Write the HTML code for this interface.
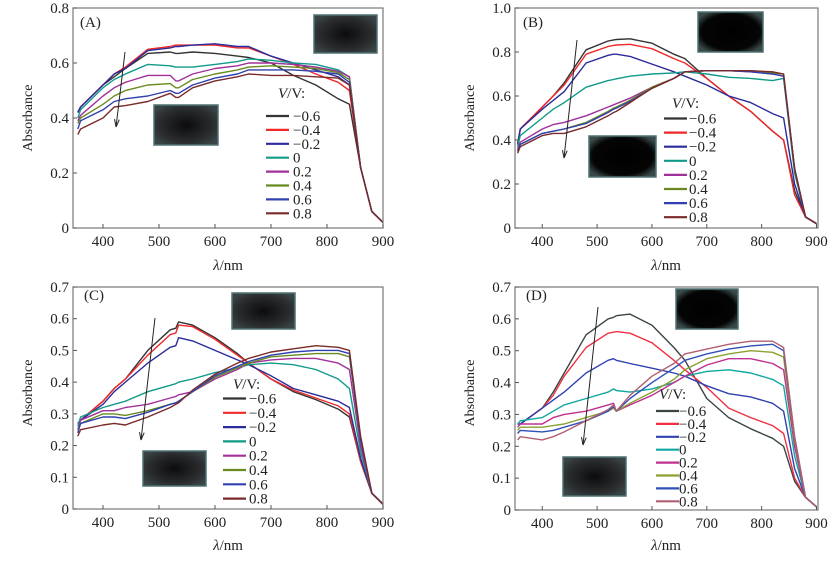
<!DOCTYPE html>
<html><head><meta charset="utf-8"><style>
body{margin:0;background:#fff;}
svg{display:block;font-family:"Liberation Serif",serif;}
</style></head><body>
<svg id="fig" width="838" height="561" viewBox="0 0 838 561">
<defs>
<radialGradient id="ins" cx="50%" cy="50%" r="60%"><stop offset="0" stop-color="#0c0c0e"/><stop offset="0.7" stop-color="#2a2c2e"/><stop offset="1" stop-color="#3a4446"/></radialGradient>
<radialGradient id="insB" cx="50%" cy="50%" r="60%"><stop offset="0" stop-color="#000"/><stop offset="0.75" stop-color="#050505"/><stop offset="1" stop-color="#3a4a4a"/></radialGradient>
</defs>
</svg>
<script>
const W=[355,360,400,420,440,480,520,530,535,560,600,640,660,700,740,780,820,840,860,880,900];
const seriesLabels=["\u22120.6","\u22120.4","\u22120.2","0","0.2","0.4","0.6","0.8"];
const A_m06=[.42,.44,.52,.55,.58,.635,.64,.635,.635,.64,.635,.625,.62,.60,.555,.52,.47,.45,.22,.06,.02];
const A_m04=[.42,.44,.52,.56,.585,.65,.66,.665,.665,.665,.665,.655,.655,.625,.595,.56,.53,.50,.22,.06,.02];
const A_m02=[.42,.44,.52,.56,.58,.645,.655,.66,.66,.665,.67,.66,.66,.625,.60,.575,.55,.52,.22,.06,.02];
const A_0=[.40,.43,.51,.54,.56,.595,.59,.585,.585,.585,.595,.605,.615,.61,.60,.595,.575,.55,.22,.06,.02];
const A_02=[.39,.41,.48,.51,.53,.555,.555,.535,.535,.56,.58,.59,.60,.60,.595,.585,.57,.55,.22,.06,.02];
const A_04=[.38,.40,.45,.48,.50,.52,.525,.51,.51,.54,.56,.575,.585,.59,.585,.58,.565,.54,.22,.06,.02];
const A_06=[.36,.39,.43,.46,.47,.48,.50,.49,.49,.52,.545,.56,.575,.575,.575,.57,.56,.53,.22,.06,.02];
const A_08=[.34,.36,.40,.44,.445,.46,.49,.475,.475,.51,.535,.55,.56,.555,.555,.55,.545,.52,.22,.06,.02];
const B_m06=[.38,.45,.55,.60,.66,.81,.85,.855,.857,.86,.84,.79,.77,.68,.60,.53,.44,.40,.17,.05,.02];
const B_m04=[.38,.45,.55,.60,.65,.79,.825,.83,.832,.835,.815,.77,.75,.68,.60,.53,.44,.40,.15,.05,.02];
const B_m02=[.38,.45,.54,.58,.62,.75,.785,.79,.79,.78,.745,.71,.69,.65,.60,.57,.52,.50,.20,.05,.02];
const B_0=[.37,.42,.50,.54,.57,.64,.67,.675,.678,.69,.70,.705,.71,.70,.685,.68,.67,.68,.25,.05,.02];
const B_02=[.36,.39,.45,.47,.48,.51,.55,.56,.565,.59,.64,.68,.71,.715,.715,.71,.70,.69,.27,.05,.02];
const B_04=[.35,.38,.43,.44,.45,.48,.53,.545,.55,.58,.64,.68,.71,.715,.715,.715,.705,.70,.27,.05,.02];
const B_06=[.35,.38,.43,.44,.45,.475,.525,.54,.545,.575,.635,.68,.71,.715,.715,.71,.70,.69,.27,.05,.02];
const B_08=[.34,.37,.42,.43,.43,.46,.51,.525,.53,.57,.635,.68,.71,.715,.715,.715,.71,.70,.27,.05,.02];
const C_m06=[.27,.28,.34,.38,.41,.50,.565,.57,.59,.58,.54,.49,.46,.41,.37,.345,.315,.29,.15,.05,.015];
const C_m04=[.27,.28,.34,.38,.41,.485,.55,.555,.58,.575,.535,.485,.46,.41,.375,.35,.325,.30,.15,.05,.015];
const C_m02=[.27,.28,.33,.37,.40,.46,.51,.515,.54,.53,.50,.47,.455,.42,.38,.36,.34,.32,.16,.05,.015];
const C_0=[.26,.29,.32,.33,.34,.37,.39,.395,.40,.41,.43,.445,.455,.46,.455,.44,.41,.38,.18,.05,.015];
const C_02=[.25,.28,.31,.31,.32,.33,.35,.355,.36,.37,.41,.44,.46,.47,.475,.475,.46,.44,.20,.05,.015];
const C_04=[.25,.27,.30,.30,.295,.31,.33,.335,.34,.37,.415,.445,.46,.48,.485,.49,.49,.48,.22,.05,.015];
const C_06=[.24,.27,.29,.29,.285,.305,.33,.335,.34,.37,.42,.45,.465,.485,.495,.50,.50,.49,.22,.05,.015];
const C_08=[.23,.25,.265,.27,.265,.29,.32,.33,.335,.375,.425,.46,.475,.495,.505,.515,.51,.50,.23,.05,.015];
const D_m06=[.27,.27,.32,.37,.43,.55,.60,.605,.61,.615,.58,.51,.47,.35,.29,.255,.225,.20,.09,.04,.01];
const D_m04=[.27,.27,.32,.36,.42,.51,.555,.558,.56,.555,.525,.47,.44,.385,.32,.29,.265,.24,.10,.04,.01];
const D_m02=[.27,.27,.32,.345,.37,.43,.47,.475,.47,.46,.445,.43,.42,.39,.365,.355,.335,.31,.13,.04,.01];
const D_0=[.27,.28,.29,.31,.33,.35,.37,.38,.375,.37,.38,.40,.42,.435,.44,.43,.41,.39,.17,.04,.01];
const D_02=[.26,.27,.27,.29,.30,.31,.33,.335,.31,.33,.36,.40,.42,.455,.475,.475,.46,.44,.20,.04,.01];
const D_04=[.25,.26,.26,.265,.27,.29,.31,.32,.31,.335,.37,.41,.44,.475,.49,.50,.495,.48,.22,.04,.01];
const D_06=[.24,.25,.245,.25,.26,.28,.31,.325,.31,.35,.40,.445,.47,.49,.505,.515,.52,.50,.23,.04,.01];
const D_08=[.22,.23,.22,.23,.245,.28,.315,.33,.31,.36,.42,.46,.49,.505,.52,.53,.53,.51,.23,.04,.01];
const xTicks=[400,500,600,700,800,900];
const yTicksA=[0,0.2,0.4,0.6,0.8];
const yTicksB=[0,0.2,0.4,0.6,0.8,1.0];
const yTicksCD=[0,0.1,0.2,0.3,0.4,0.5,0.6,0.7];

const colorsN=["#333","#f02828","#2a2a9a","#109a8a","#a0309a","#6a8a20","#3040b0","#7a2a2a"];
const colorsD=["#3a4444","#f03040","#3040b0","#10a8a0","#c03090","#8aa030","#3050b8","#b06070"];

const svg=document.getElementById('fig');
const NS="http://www.w3.org/2000/svg";
function mk(tag,attrs,parent,text){const e=document.createElementNS(NS,tag);for(const k in attrs)e.setAttribute(k,attrs[k]);if(text!==undefined)e.textContent=text;(parent||svg).appendChild(e);return e;}

const panels=[
 {id:'a',lab:'(A)',L:73,R:383,x900:383,k:0.56,y0:228,yT:8,ymax:0.8,ticks:yTicksA,series:[A_m06,A_m04,A_m02,A_0,A_02,A_04,A_06,A_08],cols:colorsN,
  leg:{vx:278,vy:98,y:116,dy:13.9,lx:266,tx:293},ins:[[314,15,63,38,'ins'],[154,105,64,40,'ins']],arrow:[125,52,116,127],ytx:32,yty:118,xtx:228,xty:270,labx:80,laby:27},
 {id:'b',lab:'(B)',L:515,R:818,x900:816.5,k:0.5485,y0:228,yT:8,ymax:1.0,ticks:yTicksB,series:[B_m06,B_m04,B_m02,B_0,B_02,B_04,B_06,B_08],cols:colorsN,
  leg:{vx:672,vy:108,y:118.5,dy:14.1,lx:664,tx:689},ins:[[698,12,65,40,'insB'],[589,136,67,41,'insB']],arrow:[577,40,564,158],ytx:474,yty:118,xtx:666,xty:270,labx:523,laby:27},
 {id:'c',lab:'(C)',L:73,R:383,x900:383,k:0.56,y0:509,yT:287,ymax:0.7,ticks:yTicksCD,series:[C_m06,C_m04,C_m02,C_0,C_02,C_04,C_06,C_08],cols:colorsN,
  leg:{vx:233,vy:389,y:398.5,dy:14.3,lx:223,tx:249},ins:[[232,293,63,36,'ins'],[143,451,63,35,'ins']],arrow:[155,318,141,440],ytx:32,yty:393,xtx:228,xty:550,labx:84,laby:300},
 {id:'d',lab:'(D)',L:515,R:818,x900:816.5,k:0.5485,y0:510,yT:287,ymax:0.7,ticks:yTicksCD,series:[D_m06,D_m04,D_m02,D_0,D_02,D_04,D_06,D_08],cols:colorsD,
  leg:{vx:659,vy:399,y:411,dy:12.9,lx:656,tx:679},ins:[[676,289,62,40,'insB'],[563,457,63,39,'ins']],arrow:[598,307,583,445],ytx:474,yty:393,xtx:666,xty:550,labx:526,laby:300}
];

panels.forEach(p=>{
 const g=mk('g',{});
 
 
 const xs=w=>p.x900-(900-w)*p.k;
 const ys=v=>p.y0-(v/p.ymax)*(p.y0-p.yT);
 p.ins.forEach((r,i)=>{
  const e=mk('rect',{x:r[0],y:r[1],width:r[2],height:r[3],fill:'url(#'+r[4]+')',stroke:'#4f7272','stroke-width':1.5},g);
  
  
 });
 p.series.forEach((s,i)=>{
  const d=W.map((w,j)=>(j?'L':'M')+xs(w).toFixed(1)+','+ys(s[j]).toFixed(1)).join(' ');
  const e=mk('path',{d:d,fill:'none',stroke:p.cols[i],'stroke-width':1.4,'stroke-linejoin':'round'},g);
  
  
 });
 const fr=mk('rect',{x:p.L,y:p.yT,width:p.R-p.L,height:p.y0-p.yT,fill:'none',stroke:'#777','stroke-width':1.2},g);
 
 
 xTicks.forEach(t=>{
  const x=xs(t);
  mk('line',{x1:x,y1:p.y0,x2:x,y2:p.y0-4,stroke:'#555'},g);
  const tl=mk('text',{x:x,y:p.y0+18,'text-anchor':'middle','font-size':15,fill:'#222'},g,String(t));
  
  
 });
 p.ticks.forEach(t=>{
  const y=ys(t);
  mk('line',{x1:p.L,y1:y,x2:p.L+4,y2:y,stroke:'#555'},g);
  const tl=mk('text',{x:p.L-4,y:y+5,'text-anchor':'end','font-size':15,fill:'#222'},g,t===0?'0':t.toFixed(1));
  
  
 });
 const yt=mk('text',{x:p.ytx,y:p.yty,'text-anchor':'middle','font-size':14,fill:'#222',transform:'rotate(-90 '+p.ytx+' '+p.yty+')'},g,'Absorbance');
 
 
 const xt=mk('text',{x:p.xtx,y:p.xty,'text-anchor':'middle','font-size':15,fill:'#222'},g);
 
 
 mk('tspan',{'font-style':'italic'},xt,'λ');mk('tspan',{},xt,'/nm');
 const pl=mk('text',{x:p.labx,y:p.laby,'font-size':15,fill:'#222'},g,p.lab);
 
 
 const a=p.arrow;
 const al=mk('line',{x1:a[0],y1:a[1],x2:a[2],y2:a[3],stroke:'#222','stroke-width':1},g);
 
 
 const ang=Math.atan2(a[3]-a[1],a[2]-a[0]);
 const hx=a[2],hy=a[3],L=8,sp=0.3;
 mk('path',{d:`M${hx},${hy} L${hx-L*Math.cos(ang-sp)},${hy-L*Math.sin(ang-sp)} M${hx},${hy} L${hx-L*Math.cos(ang+sp)},${hy-L*Math.sin(ang+sp)}`,stroke:'#222',fill:'none'},g);
 const lg=mk('g',{},g);
 
 
 const vt=mk('text',{x:p.leg.vx,y:p.leg.vy,'font-size':15,fill:'#222'},lg);
 mk('tspan',{'font-style':'italic'},vt,'V');mk('tspan',{},vt,'/V:');
 seriesLabels.forEach((s,i)=>{
  const y=p.leg.y+i*p.leg.dy;
  const le=mk('g',{},lg);
  
  
  mk('line',{x1:p.leg.lx,y1:y,x2:p.leg.lx+23,y2:y,stroke:p.cols[i],'stroke-width':2.2},le);
  mk('text',{x:p.leg.tx,y:y+5,'font-size':15,fill:'#222'},le,s);
 });
});
</script>
</body></html>
